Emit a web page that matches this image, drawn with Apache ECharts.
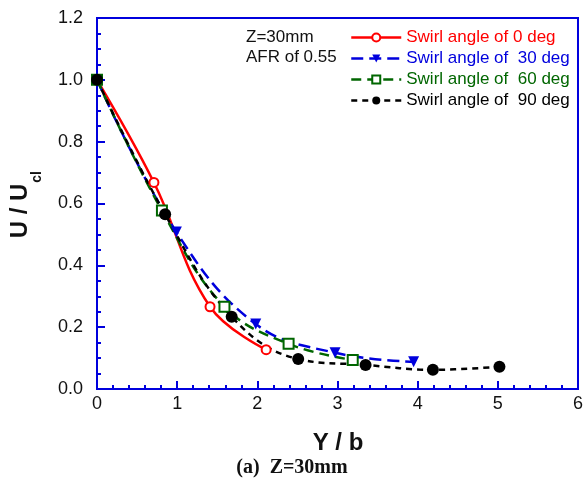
<!DOCTYPE html>
<html><head><meta charset="utf-8">
<script src="https://cdn.jsdelivr.net/npm/echarts@6/dist/echarts.min.js"></script>
<style>html,body{margin:0;padding:0;background:#fff}#c{width:586px;height:483px}</style>
</head><body><div id="c"></div>
<script>
var seriesNames = ['Swirl angle of 0 deg', 'Swirl angle of  30 deg', 'Swirl angle of  60 deg', 'Swirl angle of  90 deg'];
var angle0X = [0, 0.71, 1.41, 2.11];
var angle0Y = [1.0, 0.668, 0.266, 0.127];
var angle30X = [0, 0.99, 1.98, 2.97, 3.95];
var angle30Y = [1.0, 0.508, 0.21, 0.117, 0.088];
var angle60X = [0, 0.81, 1.59, 2.39, 3.19];
var angle60Y = [1.0, 0.577, 0.266, 0.146, 0.094];
var angle90X = [0, 0.85, 1.68, 2.51, 3.35, 4.19, 5.02];
var angle90Y = [1.0, 0.565, 0.234, 0.097, 0.078, 0.062, 0.072];
var annotations = ['Z=30mm', 'AFR of 0.55'];
var xTitle = 'Y / b';
var caption = '(a)  Z=30mm';

function pairs(xs, ys){ return xs.map(function(x,i){ return [x, ys[i]]; }); }
var colors = ['#ff0000', '#0000dd', '#006600', '#000000'];
var font = '"Liberation Sans", Arial, sans-serif';
var chart = echarts.init(document.getElementById('c'), null, {renderer:'canvas'});
var axisBlue = '#0000dd';
chart.setOption({
  animation: false,
  backgroundColor: '#fff',
  grid: {left: 97, right: 7, top: 18, bottom: 94, show: true, borderColor: axisBlue, borderWidth: 2, backgroundColor: 'transparent'},
  xAxis: {type: 'value', min: 0, max: 6, interval: 1,
    axisLine: {lineStyle: {color: axisBlue, width: 2}},
    axisTick: {inside: true, length: 8, lineStyle: {color: axisBlue, width: 2}},
    minorTick: {show: true, splitNumber: 5, length: 4, lineStyle: {color: axisBlue, width: 2}},
    splitLine: {show: false},
    axisLabel: {color: '#111', fontSize: 18, fontFamily: font, margin: 6}
  },
  yAxis: {type: 'value', min: 0, max: 1.2, interval: 0.2,
    axisLine: {lineStyle: {color: axisBlue, width: 2}},
    axisTick: {inside: true, length: 8, lineStyle: {color: axisBlue, width: 2}},
    minorTick: {show: true, splitNumber: 4, length: 4, lineStyle: {color: axisBlue, width: 2}},
    splitLine: {show: false},
    axisLabel: {color: '#111', fontSize: 18, fontFamily: font, margin: 14, formatter: function(v){ return v.toFixed(1); }}
  },
  legend: {
    orient: 'vertical', left: 350, top: 29, itemWidth: 50, itemHeight: 10, itemGap: 4,
    padding: 0,
    lineStyle: {width: 2.5},
    data: seriesNames.map(function(n,i){ return {name: n, textStyle: {color: colors[i]}}; }),
    textStyle: {fontSize: 17, fontFamily: font}
  },
  graphic: [
    {type: 'text', x: 246, y: 37, style: {text: annotations[0], font: '17px ' + font, fill: '#111', verticalAlign: 'middle'}},
    {type: 'text', x: 246, y: 57, style: {text: annotations[1], font: '17px ' + font, fill: '#111', verticalAlign: 'middle'}},
    {type: 'text', x: 338, y: 443, style: {text: xTitle, font: 'bold 24px ' + font, fill: '#111', align: 'center', verticalAlign: 'middle'}},
    {type: 'text', x: 292, y: 468, style: {text: caption, font: 'bold 20px "Liberation Serif", "Times New Roman", serif', fill: '#111', align: 'center', verticalAlign: 'middle'}},
    {type: 'text', x: 20, y: 211, rotation: Math.PI/2, style: {text: 'U / U', font: 'bold 24px ' + font, fill: '#111', align: 'center', verticalAlign: 'middle'}},
    {type: 'text', x: 37, y: 177, rotation: Math.PI/2, style: {text: 'cl', font: 'bold 14px ' + font, fill: '#111', align: 'center', verticalAlign: 'middle'}}
  ],
  series: [
    {name: seriesNames[0], type: 'line', data: pairs(angle0X, angle0Y), smooth: 0.4,
      symbol: 'emptyCircle', symbolSize: 9, color: colors[0],
      lineStyle: {width: 2.5, color: colors[0]}, itemStyle: {color: colors[0], borderWidth: 1}},
    {name: seriesNames[1], type: 'line', data: pairs(angle30X, angle30Y), smooth: 0.4,
      symbol: 'triangle', symbolRotate: 180, symbolSize: 11, color: colors[1],
      lineStyle: {width: 2.5, color: colors[1], type: [12, 6]}, itemStyle: {color: colors[1]}},
    {name: seriesNames[2], type: 'line', data: pairs(angle60X, angle60Y), smooth: 0.4,
      symbol: 'emptyRect', symbolSize: 10, color: colors[2],
      lineStyle: {width: 2.5, color: colors[2], type: [10, 6]}, itemStyle: {color: colors[2], borderWidth: 1}},
    {name: seriesNames[3], type: 'line', data: pairs(angle90X, angle90Y), smooth: 0.4,
      symbol: 'circle', symbolSize: 12, color: colors[3],
      lineStyle: {width: 2.5, color: colors[3], type: [6, 5]}, itemStyle: {color: colors[3]}}
  ]
});
</script></body></html>
